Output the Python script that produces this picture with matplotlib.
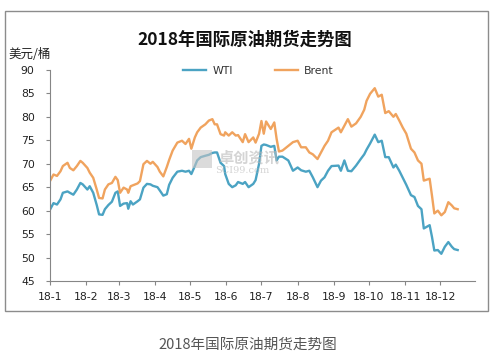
import matplotlib.pyplot as plt
import matplotlib.dates as mdates
from matplotlib.patches import Rectangle
import pandas as pd

plt.rcParams['font.family'] = ['Noto Sans CJK SC', 'DejaVu Sans']

# day of year 2018 (0 = Jan 1) for each reading
days = [0, 3, 6, 9, 11, 15, 17, 20, 23, 26, 28, 32, 34, 37, 40, 42, 45, 47, 50, 53,
        56, 58, 60, 63, 66, 67, 69, 71, 75, 77, 80, 83, 86, 88, 92, 94, 97, 100, 102, 105,
        109, 113, 116, 119, 121, 124, 126, 129, 133, 136, 139, 141, 143, 146, 149, 150, 153, 156, 159, 161,
        165, 167, 170, 174, 176, 179, 181, 183, 185, 189, 192, 194, 196, 199, 204, 208, 212, 215, 219, 222,
        225, 229, 232, 235, 238, 241, 247, 249, 252, 255, 258, 262, 266, 269, 271, 274, 278, 281, 284, 287,
        290, 294, 296, 299, 302, 305, 309, 312, 315, 318, 320, 325, 327, 329, 332, 335, 338, 341, 344, 346,
        349]

brent = [66.3, 67.7, 67.4, 68.4, 69.5, 70.2, 69.1, 68.6, 69.5, 70.6, 70.2, 69.1, 68.1, 67.0, 64.5, 62.7, 62.6, 64.5, 65.6, 65.9,
         67.2, 66.5, 63.8, 64.9, 64.5, 63.8, 65.2, 65.4, 65.8, 66.3, 69.9, 70.6, 70.0, 70.4, 69.3, 68.3, 67.3, 69.3, 70.8, 72.8,
         74.5, 74.9, 74.2, 75.3, 73.2, 75.6, 76.7, 77.7, 78.4, 79.2, 79.5, 78.4, 78.4, 76.3, 76.0, 76.7, 76.0, 76.7, 76.0, 76.1,
         74.6, 76.3, 74.6, 75.6, 74.5, 76.4, 79.1, 76.4, 79.0, 77.4, 78.8, 75.3, 72.6, 72.8, 73.8, 74.6, 74.9, 73.5, 73.5, 72.4,
         72.0, 71.0, 72.4, 73.8, 74.9, 76.7, 77.7, 76.7, 78.1, 79.5, 77.9, 78.6, 80.0, 81.5, 83.4, 84.9, 86.1, 84.3, 84.7, 80.8,
         81.2, 80.0, 80.6, 79.2, 77.7, 76.4, 73.2, 72.4, 70.7, 70.0, 66.4, 66.8, 63.2, 59.4, 60.0, 59.0, 59.7, 61.8, 61.1, 60.5,
         60.3]

wti = [60.2, 61.6, 61.3, 62.4, 63.8, 64.1, 63.8, 63.4, 64.5, 65.9, 65.6, 64.5, 65.2, 63.8, 61.2, 59.2, 59.1, 60.3, 61.2, 61.9,
       63.8, 64.1, 61.0, 61.5, 61.6, 60.4, 62.0, 61.3, 62.0, 62.4, 64.9, 65.7, 65.6, 65.3, 65.0, 64.3, 63.2, 63.5, 65.5, 67.0,
       68.3, 68.5, 68.3, 68.5, 67.8, 69.5, 70.7, 71.4, 71.7, 71.9, 72.3, 72.4, 72.4, 70.2, 69.5, 67.8, 65.7, 65.0, 65.4, 66.1,
       65.7, 66.1, 65.0, 65.7, 66.5, 70.0, 73.8, 74.1, 74.0, 73.6, 73.8, 70.7, 71.5, 71.5, 70.7, 68.5, 69.2, 68.6, 68.3, 68.5,
       67.1, 65.0, 66.4, 67.1, 68.5, 69.5, 69.6, 68.5, 70.7, 68.5, 68.4, 69.6, 71.0, 72.0, 73.0, 74.3, 76.2, 74.6, 74.9, 71.4,
       71.4, 69.2, 69.8, 68.5, 67.0, 65.5, 63.3, 62.9, 61.0, 60.3, 56.2, 56.9, 54.4, 51.5, 51.6, 50.8, 52.3, 53.3, 52.3, 51.8,
       51.6]

month_labels = ['18-1', '18-2', '18-3', '18-4', '18-5', '18-6',
                '18-7', '18-8', '18-9', '18-10', '18-11', '18-12']

dates = pd.Timestamp('2018-01-01') + pd.to_timedelta(days, unit='D')
month_starts = pd.date_range('2018-01-01', periods=12, freq='MS')

fig = plt.figure(figsize=(4.95, 3.61), dpi=100)
ax = fig.add_axes([0.101, 0.2216, 0.859, 0.5848])

# outer chart frame
fig.patches.append(Rectangle((5 / 495, 1 - 311 / 361), 483 / 495, 300 / 361,
                             transform=fig.transFigure, fill=False,
                             edgecolor='#8c8c8c', linewidth=1))

# watermark (drawn under the lines)
fig.text(218 / 495, 1 - 157 / 361, '卓创资讯', ha='left', va='center', fontsize=11,
         color='#b8b8b8', alpha=0.6, fontweight='bold', zorder=0)
fig.text(215 / 495, 1 - 171 / 361, 'SCI99.com', ha='left', va='center', fontsize=7,
         color='#b8b8b8', alpha=0.6, family='DejaVu Serif', zorder=0)
fig.patches.append(Rectangle((192 / 495, 1 - 168 / 361), 20 / 495, 18 / 361,
                             transform=fig.transFigure, facecolor='#c4c4c4',
                             alpha=0.6, edgecolor='none', zorder=0))
ax.patch.set_alpha(0)

ax.plot(dates, wti, color='#4BA3C3', linewidth=1.7, label='WTI')
ax.plot(dates, brent, color='#F0A35E', linewidth=1.7, label='Brent')

ax.set_ylim(45, 90)
ax.set_yticks(range(45, 91, 5))
ax.set_xlim(pd.Timestamp('2018-01-01'), pd.Timestamp('2018-12-31'))
ax.set_xticks(month_starts)
ax.set_xticklabels(month_labels)

for s in ['top', 'right']:
    ax.spines[s].set_visible(False)
for s in ['left', 'bottom']:
    ax.spines[s].set_color('#868686')
ax.tick_params(axis='y', length=3, pad=8, color='#868686', labelsize=7.8, labelcolor='#222222')
ax.tick_params(axis='x', length=3, pad=5, color='#868686', labelsize=7.8, labelcolor='#222222')
for lab in ax.get_xticklabels() + ax.get_yticklabels():
    lab.set_family('DejaVu Sans')

fig.text(0.495, 1 - 40 / 361, '2018年国际原油期货走势图', ha='center', va='center',
         fontsize=12.5, fontweight='bold', color='#111111')
fig.text(8 / 495, 1 - 54 / 361, '美元/桶', ha='left', va='center', fontsize=9, color='#222222')

leg = ax.legend(loc='upper center', bbox_to_anchor=(0.49, 1.065), ncol=2, frameon=False,
                prop={'family': 'DejaVu Sans', 'size': 7.8},
                handlelength=2.1, columnspacing=3.9, handletextpad=0.6)
for t in leg.get_texts():
    t.set_color('#333333')

fig.text(0.5, 1 - 345 / 361, '2018年国际原油期货走势图', ha='center', va='center',
         fontsize=10.5, color='#555555')

plt.savefig('out.png', dpi=100)
